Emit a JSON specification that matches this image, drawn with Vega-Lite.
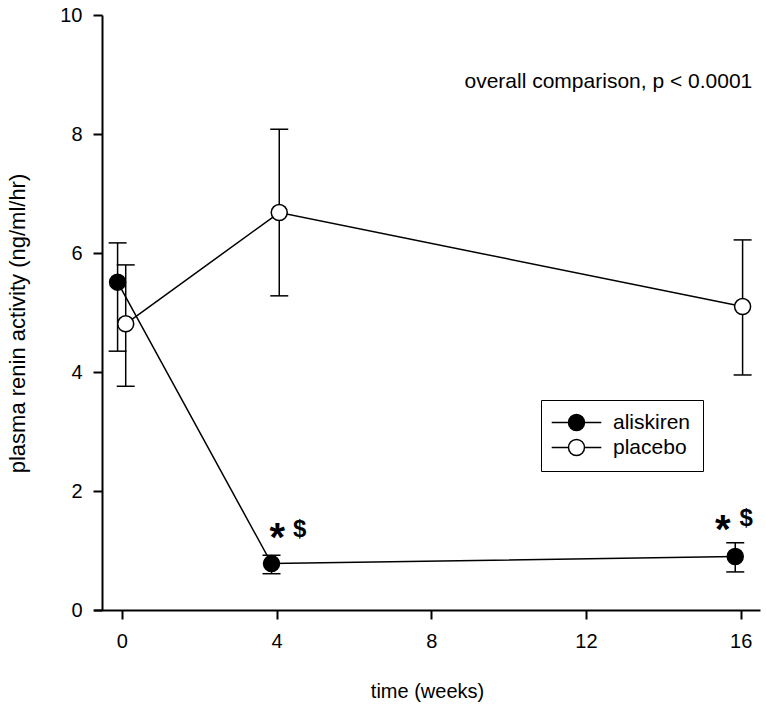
{
  "$schema": "https://vega.github.io/schema/vega-lite/v6.json",
  "width": 666,
  "height": 595,
  "autosize": {"type": "none"},
  "padding": {"left": 94, "top": 15, "right": 6, "bottom": 103},
  "config": {
    "view": {"stroke": null},
    "font": "Liberation Sans",
    "axis": {
      "domainColor": "black", "domainWidth": 2,
      "tickColor": "black", "tickWidth": 2, "tickSize": 9,
      "labelColor": "black", "labelFontSize": 20, "labelFont": "Liberation Sans",
      "titleFont": "Liberation Sans", "titleFontWeight": "normal", "titleColor": "black",
      "grid": false
    }
  },
  "datasets": {
    "stats": [
      {"group": "aliskiren", "week": -0.11, "mean": 5.51, "lo": 4.35, "hi": 6.17},
      {"group": "aliskiren", "week": 3.87, "mean": 0.78, "lo": 0.61, "hi": 0.92},
      {"group": "aliskiren", "week": 15.86, "mean": 0.90, "lo": 0.64, "hi": 1.13},
      {"group": "placebo", "week": 0.10, "mean": 4.81, "lo": 3.76, "hi": 5.80},
      {"group": "placebo", "week": 4.07, "mean": 6.68, "lo": 5.28, "hi": 8.08},
      {"group": "placebo", "week": 16.05, "mean": 5.10, "lo": 3.95, "hi": 6.22}
    ],
    "notes": [
      {"label": "*", "week": 4.02, "y": 0.99},
      {"label": "*", "week": 15.54, "y": 1.13},
      {"label": "$", "week": 4.6, "y": 1.22},
      {"label": "$", "week": 16.14, "y": 1.41},
      {"label": "overall comparison, p < 0.0001", "week": 16.3, "y": 8.78}
    ]
  },
  "layer": [
    {
      "data": {"name": "stats"},
      "mark": {"type": "line", "color": "black", "strokeWidth": 1.5},
      "encoding": {
        "x": {"field": "week", "type": "quantitative",
          "scale": {"domain": [-0.72, 16.5], "nice": false, "zero": false},
          "axis": {"values": [0, 4, 8, 12, 16], "format": "d", "title": "time (weeks)", "labelPadding": 12,
            "titleFontSize": 20, "titleY": 87, "titleBaseline": "alphabetic"}},
        "y": {"field": "mean", "type": "quantitative",
          "scale": {"domain": [0, 10], "nice": false},
          "axis": {"values": [0, 2, 4, 6, 8, 10], "format": "d", "title": "plasma renin activity (ng/ml/hr)",
            "offset": -8, "labelPadding": 11, "titleFontSize": 22, "titleX": -73, "titleY": 308}},
        "detail": {"field": "group"}
      }
    },
    {
      "data": {"name": "stats"},
      "mark": {"type": "rule", "color": "black", "strokeWidth": 1.5},
      "encoding": {
        "x": {"field": "week", "type": "quantitative"},
        "y": {"field": "lo", "type": "quantitative"},
        "y2": {"field": "hi"}
      }
    },
    {
      "data": {"name": "stats"},
      "mark": {"type": "tick", "orient": "horizontal", "size": 18, "thickness": 1.5, "color": "black", "opacity": 1},
      "encoding": {
        "x": {"field": "week", "type": "quantitative"},
        "y": {"field": "lo", "type": "quantitative"}
      }
    },
    {
      "data": {"name": "stats"},
      "mark": {"type": "tick", "orient": "horizontal", "size": 18, "thickness": 1.5, "color": "black", "opacity": 1},
      "encoding": {
        "x": {"field": "week", "type": "quantitative"},
        "y": {"field": "hi", "type": "quantitative"}
      }
    },
    {
      "data": {"name": "stats"},
      "mark": {"type": "point", "shape": "circle", "size": 256, "stroke": "black", "strokeWidth": 1.5, "opacity": 1, "fillOpacity": 1},
      "encoding": {
        "x": {"field": "week", "type": "quantitative"},
        "y": {"field": "mean", "type": "quantitative"},
        "fill": {"field": "group", "type": "nominal",
          "scale": {"domain": ["aliskiren", "placebo"], "range": ["black", "white"]},
          "legend": {"title": null, "orient": "none", "legendX": 447, "legendY": 385,
            "symbolType": "M-3.1,0H-1M1,0H3.1M-1,0A1,1,0,1,1,1,0A1,1,0,1,1,-1,0Z",
            "symbolSize": 256, "symbolStrokeColor": "black", "symbolStrokeWidth": 1.5,
            "symbolOffset": 13, "labelOffset": 26, "labelFontSize": 21, "labelFont": "Liberation Sans",
            "labelColor": "black", "padding": 12, "rowPadding": 2, "strokeColor": "black"}}
      }
    },
    {
      "data": {"name": "notes"},
      "transform": [{"filter": "datum.label === '*'"}],
      "mark": {"type": "text", "fontSize": 40, "fontWeight": "bold", "align": "center", "baseline": "alphabetic", "color": "black"},
      "encoding": {
        "x": {"field": "week", "type": "quantitative"},
        "y": {"field": "y", "type": "quantitative"},
        "text": {"field": "label"}
      }
    },
    {
      "data": {"name": "notes"},
      "transform": [{"filter": "datum.label === '$'"}],
      "mark": {"type": "text", "fontSize": 24, "fontWeight": "bold", "align": "center", "baseline": "alphabetic", "color": "black"},
      "encoding": {
        "x": {"field": "week", "type": "quantitative"},
        "y": {"field": "y", "type": "quantitative"},
        "text": {"field": "label"}
      }
    },
    {
      "data": {"name": "notes"},
      "transform": [{"filter": "length(datum.label) > 1"}],
      "mark": {"type": "text", "fontSize": 21, "align": "right", "baseline": "alphabetic", "color": "black"},
      "encoding": {
        "x": {"field": "week", "type": "quantitative"},
        "y": {"field": "y", "type": "quantitative"},
        "text": {"field": "label"}
      }
    }
  ]
}
